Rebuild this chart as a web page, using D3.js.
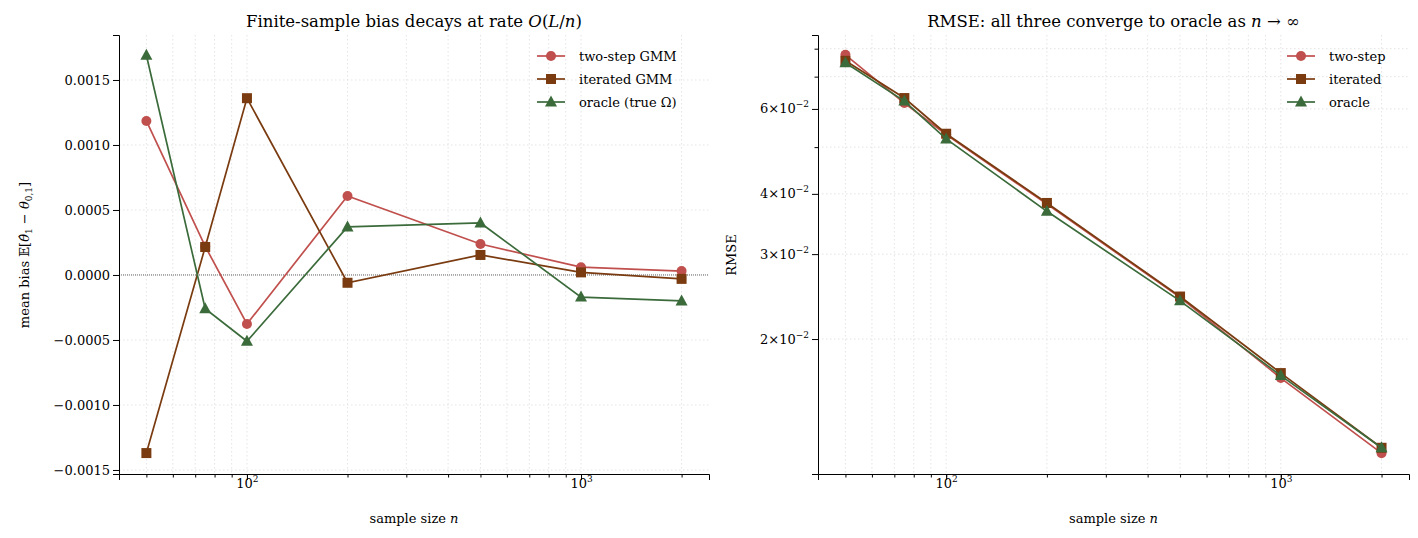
<!DOCTYPE html>
<html><head><meta charset="utf-8">
<script src="https://cdn.jsdelivr.net/npm/d3@7"></script>
<style>
body{margin:0;background:#fff;font-family:"DejaVu Serif",serif;}
text{font-family:"DejaVu Serif",serif;}
</style></head><body>
<svg id="svg" width="1418" height="538"></svg>
<script>
const sizes = [50, 75, 100, 200, 500, 1000, 2000];
const biasTwoStep = [0.001185, 0.00022, -0.000377, 0.000608, 0.000238, 0.00006, 0.00003];
const biasIterated = [-0.00137, 0.000215, 0.00136, -0.00006, 0.000154, 0.00002, -0.00003];
const biasOracle = [0.00169, -0.00026, -0.00051, 0.00037, 0.0004, -0.00017, -0.0002];
const rmseTwoStep = [0.0777, 0.0617, 0.0531, 0.0381, 0.0244, 0.0166, 0.0116];
const rmseIterated = [0.0755, 0.0632, 0.0533, 0.0383, 0.0245, 0.0170, 0.0119];
const rmseOracle = [0.0748, 0.0623, 0.0520, 0.0368, 0.0240, 0.0168, 0.0119];
const biasTicks = [-0.0015, -0.001, -0.0005, 0, 0.0005, 0.001, 0.0015];
const rmseTicks = [0.02, 0.03, 0.04, 0.06];

const colors = {two:"#c0504d", it:"#7a3b10", or:"#3b6b3b"};
const svg = d3.select("#svg");

function panel(opt){
  const x = d3.scaleLog().domain([41.4, 2416]).range([opt.x0, opt.x1]);
  const y = opt.y;
  const g = svg.append("g");
  // grid
  const xminor = [];
  [10,100,1000].forEach(d=>{for(let k=1;k<10;k++){const v=d*k; if(v>41.4&&v<2416) xminor.push(v);}});
  g.selectAll(".gx").data(xminor).enter().append("line")
    .attr("x1",d=>x(d)).attr("x2",d=>x(d)).attr("y1",35).attr("y2",474)
    .attr("stroke","#ddd").attr("stroke-width",0.8).attr("stroke-dasharray","1.5,2.5");
  g.selectAll(".gy").data(opt.grid).enter().append("line")
    .attr("x1",opt.x0).attr("x2",opt.x1).attr("y1",d=>y(d)).attr("y2",d=>y(d))
    .attr("stroke","#ddd").attr("stroke-width",0.8).attr("stroke-dasharray","1.5,2.5");
  // x axis
  const xa = g.append("g").attr("transform","translate(0,474)")
    .call(d3.axisBottom(x).tickValues([100,1000]).tickSize(6).tickFormat(()=>""));
  xa.selectAll(".tick").append("text").attr("y",14).attr("fill","#000").attr("font-size",13)
    .attr("text-anchor","middle").html(d=>"10<tspan dy='-6' font-size='9'>"+Math.log10(d)+"</tspan>");
  g.append("g").attr("transform","translate(0,474)")
    .call(d3.axisBottom(x).tickValues(xminor).tickSize(3.5).tickFormat(""))
    .call(a=>a.select(".domain").remove());
  // y axis
  const ya = g.append("g").attr("transform",`translate(${opt.x0},0)`).call(opt.yaxis);
  ya.selectAll("text").attr("font-size",13).attr("fill","#000");
  if(opt.yminor) g.append("g").attr("transform",`translate(${opt.x0},0)`)
    .call(d3.axisLeft(y).tickValues(opt.yminor).tickSize(3.5).tickFormat(""))
    .call(a=>a.select(".domain").remove());
  g.selectAll(".domain").attr("stroke","#000");
  if(opt.zero) g.append("line").attr("x1",opt.x0).attr("x2",opt.x1).attr("y1",y(0)).attr("y2",y(0))
    .attr("stroke","#000").attr("stroke-width",0.6).attr("stroke-dasharray","1,1");
  // series
  const line = d3.line().x((d,i)=>x(sizes[i])).y(d=>y(d));
  opt.series.forEach(s=>{
    g.append("path").attr("d",line(s.v)).attr("fill","none").attr("stroke",s.c).attr("stroke-width",1.7);
    s.v.forEach((v,i)=>marker(g,s.m,x(sizes[i]),y(v),s.c));
  });
  // legend
  const lg = g.append("g").attr("transform",`translate(${opt.x1-172+opt.legDx},56)`);
  opt.series.forEach((s,i)=>{
    const yy=i*23;
    lg.append("line").attr("x1",0).attr("x2",28).attr("y1",yy).attr("y2",yy).attr("stroke",s.c).attr("stroke-width",1.7);
    marker(lg,s.m,14,yy,s.c);
    lg.append("text").attr("x",42).attr("y",yy+4.5).attr("font-size",13).text(s.label);
  });
  g.append("text").attr("x",(opt.x0+opt.x1)/2).attr("y",27).attr("text-anchor","middle").attr("font-size",16.5).html(opt.title);
  g.append("text").attr("x",(opt.x0+opt.x1)/2).attr("y",523).attr("text-anchor","middle").attr("font-size",13)
    .html("sample size <tspan font-style='italic'>n</tspan>");
  g.append("text").attr("transform",`translate(${opt.ylabX},${opt.ylabY}) rotate(-90)`).attr("text-anchor","middle").attr("font-size",13).html(opt.ylabel);
}
function marker(g,m,cx,cy,c){
  if(m==="o") g.append("circle").attr("cx",cx).attr("cy",cy).attr("r",5).attr("fill",c);
  else if(m==="s") g.append("rect").attr("x",cx-5).attr("y",cy-5).attr("width",10).attr("height",10).attr("fill",c);
  else g.append("path").attr("d",`M${cx},${cy-6.5}L${cx+6},${cy+4.5}L${cx-6},${cy+4.5}Z`).attr("fill",c);
}

const yL = d3.scaleLinear().domain([-0.001531, 0.001846]).range([474,35]);
panel({x0:119,x1:709,y:yL,grid:biasTicks,zero:true,legDx:0,
  yaxis:d3.axisLeft(yL).tickValues(biasTicks).tickSize(6).tickFormat(d3.format(".4f")),
  title:"Finite-sample bias decays at rate <tspan font-style='italic'>O</tspan>(<tspan font-style='italic'>L</tspan>/<tspan font-style='italic'>n</tspan>)",
  ylabX:29,ylabY:255,
  ylabel:"mean bias  𝔼[<tspan font-style='italic'>θ̂</tspan><tspan font-size='9' dy='3'>1</tspan><tspan dy='-3'> − </tspan><tspan font-style='italic'>θ</tspan><tspan font-size='9' dy='3'>0,1</tspan><tspan dy='-3'>]</tspan>",
  series:[{v:biasTwoStep,c:colors.two,m:"o",label:"two-step GMM"},
          {v:biasIterated,c:colors.it,m:"s",label:"iterated GMM"},
          {v:biasOracle,c:colors.or,m:"^",label:"oracle (true Ω)"}]});

const yR = d3.scaleLog().domain([0.0105, 0.0854]).range([474,35]);
const fmtR = d => { const m = Math.round(d*100); return m+"×10<tspan dy='-6' font-size='9'>−2</tspan>"; };
panel({x0:818,x1:1409,y:yR,grid:[0.02,0.03,0.04,0.05,0.06,0.07,0.08],zero:false,legDx:50,
  yaxis:d3.axisLeft(yR).tickValues(rmseTicks).tickSize(6).tickFormat(""),
  yminor:[0.05,0.07,0.08],
  title:"RMSE: all three converge to oracle as <tspan font-style='italic'>n</tspan> → ∞",
  ylabX:736,ylabY:255,ylabel:"RMSE",
  series:[{v:rmseTwoStep,c:colors.two,m:"o",label:"two-step"},
          {v:rmseIterated,c:colors.it,m:"s",label:"iterated"},
          {v:rmseOracle,c:colors.or,m:"^",label:"oracle"}]});
// right y tick labels with superscripts
rmseTicks.forEach(t=>{
  svg.append("text").attr("x",809).attr("y",yR(t)+4.5).attr("text-anchor","end").attr("font-size",13).html(fmtR(t));
});
</script></body></html>
